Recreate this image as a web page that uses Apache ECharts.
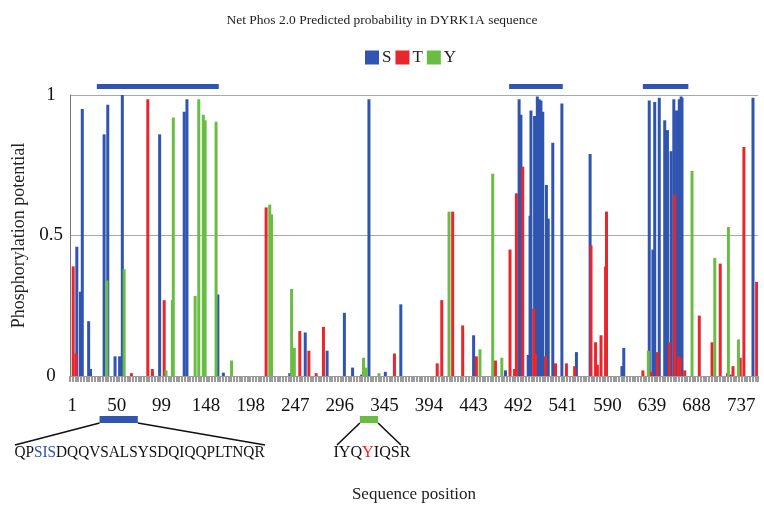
<!DOCTYPE html>
<html>
<head>
<meta charset="utf-8">
<script src="https://cdn.jsdelivr.net/npm/echarts@6/dist/echarts.min.js"></script>
<style>html,body{margin:0;padding:0;background:#fff}#c{width:764px;height:510px}</style>
</head>
<body>
<div id="c"></div>
<script>
// ---- data ----
const residueCount = 756;
const tickLabels = ['1','50','99','148','198','247','296','345','394','443','492','541','590','639','688','737'];
const seriesNames = ['S','T','Y'];

const sPos = [8,12,14,21,23,38,42,50,55,58,99,126,129,163,169,242,259,283,302,311,321,329,347,364,444,479,494,496,504,506,507,511,514,516,518,520,524,526,531,541,557,572,607,609,637,641,643,648,654,657,661,664,667,670,672,673,726,751];
const sVal = [0.46,0.30,0.95,0.195,0.025,0.86,0.965,0.07,0.07,1.0,0.86,0.94,0.985,0.29,0.012,0.01,0.155,0.09,0.225,0.03,0.005,0.985,0.015,0.255,0.145,0.02,0.985,0.93,0.075,0.57,0.945,0.925,0.995,0.985,0.98,0.94,0.68,0.56,0.83,0.97,0.085,0.79,0.035,0.10,0.98,0.45,0.975,0.99,0.91,0.875,0.80,0.985,0.945,0.985,0.995,0.99,0.005,0.99];

const tPos = [4,7,68,86,91,104,216,253,263,271,279,357,404,409,421,432,447,468,484,489,491,498,510,512,523,534,546,555,573,578,580,584,589,590,630,639,646,659,665,669,671,676,692,706,715,723,729,737,741,755];
const tVal = [0.39,0.08,0.01,0.985,0.025,0.27,0.60,0.16,0.09,0.01,0.175,0.08,0.045,0.27,0.585,0.18,0.07,0.055,0.45,0.025,0.65,0.745,0.24,0.08,0.07,0.045,0.045,0.035,0.465,0.12,0.04,0.145,0.39,0.585,0.02,0.015,0.085,0.12,0.645,0.07,0.065,0.02,0.215,0.12,0.40,0.01,0.035,0.065,0.815,0.335];

const yPos = [41,60,106,113,114,138,142,147,149,161,178,220,222,244,247,323,326,340,417,451,465,475,636,684,709,724,735];
const yVal = [0.34,0.38,0.02,0.27,0.92,0.285,0.985,0.93,0.91,0.905,0.055,0.61,0.575,0.31,0.10,0.065,0.03,0.01,0.585,0.095,0.72,0.065,0.09,0.73,0.42,0.53,0.13];

// annotated regions (residue ranges)
const topRegions = [[30,164],[483,542],[630,680]];
const pepBlueRange = [33,75];
const pepGreenRange = [319,339];

// ---- chart ----
const BLUE = '#2f55b0', RED = '#e8262b', GREEN = '#69bd45';
const FONT = "'Liberation Serif','Times New Roman',serif";
const categories = Array.from({length: residueCount}, (_, i) => String(i + 1));
function fill(pos, val) {
  const a = new Array(residueCount).fill(null);
  pos.forEach((p, i) => { a[p - 1] = val[i]; });
  return a;
}
const chart = echarts.init(document.getElementById('c'), null, {renderer: 'canvas'});
const LABEL_OFFSET = 2;
const option = {
  animation: false,
  backgroundColor: '#fff',
  title: {
    text: 'Net Phos 2.0 Predicted probability in DYRK1A sequence',
    left: 'center', top: 8,
    textStyle: {fontFamily: FONT, fontSize: 13.5, fontWeight: 'normal', color: '#222'}
  },
  legend: {
    top: 44, left: 360,
    icon: 'rect', itemWidth: 14, itemHeight: 14, itemGap: 4,
    textStyle: {fontFamily: FONT, fontSize: 17, color: '#222', padding: [0, 0, 0, -2]},
    data: seriesNames
  },
  grid: {left: 70, right: 6, top: 95, bottom: 134, containLabel: false},
  xAxis: {
    type: 'category',
    data: categories,
    boundaryGap: true,
    name: 'Sequence position',
    nameLocation: 'middle', nameGap: 110,
    nameTextStyle: {fontFamily: FONT, fontSize: 17, color: '#222'},
    axisLine: {lineStyle: {color: '#9b9b9b'}},
    axisTick: {show: true, interval: 2, length: 6, lineStyle: {color: '#9b9b9b', width: 2}},
    axisLabel: {
      interval: (idx) => idx >= LABEL_OFFSET && (idx - LABEL_OFFSET) % 49 === 0,
      formatter: (v, idx) => {
        const k = (idx - LABEL_OFFSET) / 49;
        return tickLabels[k] !== undefined ? tickLabels[k] : '';
      },
      fontFamily: FONT, fontSize: 19, color: '#111', margin: 21
    }
  },
  yAxis: {
    type: 'value', min: 0, max: 1, interval: 0.5,
    name: 'Phosphorylation potential',
    nameLocation: 'middle', nameGap: 42, nameRotate: 90,
    nameTextStyle: {fontFamily: FONT, fontSize: 18, color: '#222'},
    axisLine: {show: true, lineStyle: {color: '#777'}},
    axisTick: {show: false},
    splitLine: {lineStyle: {color: '#a8a8a8'}},
    axisLabel: {fontFamily: FONT, fontSize: 19, color: '#111', margin: 19, align: 'center'}
  },
  series: [
    {name: 'S', type: 'bar', data: fill(sPos, sVal), itemStyle: {color: BLUE}, barWidth: 3, barGap: '-100%'},
    {name: 'T', type: 'bar', data: fill(tPos, tVal), itemStyle: {color: RED}, barWidth: 3, barGap: '-100%'},
    {name: 'Y', type: 'bar', data: fill(yPos, yVal), itemStyle: {color: GREEN}, barWidth: 3, barGap: '-100%'}
  ]
};
chart.setOption(option);

// ---- annotations positioned from residue numbers ----
const xp = (res) => chart.convertToPixel({xAxisIndex: 0}, res - 1);
const g = [];
topRegions.forEach(([a, b]) => {
  const x1 = xp(a), x2 = xp(b);
  g.push({type: 'rect', shape: {x: x1, y: 84, width: x2 - x1, height: 5}, style: {fill: BLUE}});
});
function pep(range, color, textLeft, textRight, lineLeftX, lineRightX, rich, text, sx) {
  const x1 = xp(range[0]), x2 = xp(range[1]);
  g.push({type: 'rect', shape: {x: x1, y: 416, width: x2 - x1, height: 7}, style: {fill: color}});
  g.push({type: 'line', shape: {x1: x1, y1: 423, x2: lineLeftX, y2: 445}, style: {stroke: '#111', lineWidth: 1.6}});
  g.push({type: 'line', shape: {x1: x2, y1: 423, x2: lineRightX, y2: 445}, style: {stroke: '#111', lineWidth: 1.6}});
  g.push({type: 'text', x: (textLeft + textRight) / 2, y: 453, scaleX: sx,
    style: {text: text, rich: rich, fill: '#111', font: '17px ' + FONT, align: 'center', verticalAlign: 'middle'}});
}
pep(pepBlueRange, BLUE, 14, 265, 15, 265,
  {b: {fill: BLUE, fontSize: 17, fontFamily: FONT}}, 'QP{b|SIS}DQQVSALSYSDQIQQPLTNQR', 0.9);
pep(pepGreenRange, GREEN, 333, 411, 337, 401,
  {r: {fill: RED, fontSize: 17, fontFamily: FONT}}, 'IYQ{r|Y}IQSR', 0.95);
chart.setOption({graphic: {elements: g}});
</script>
</body>
</html>
